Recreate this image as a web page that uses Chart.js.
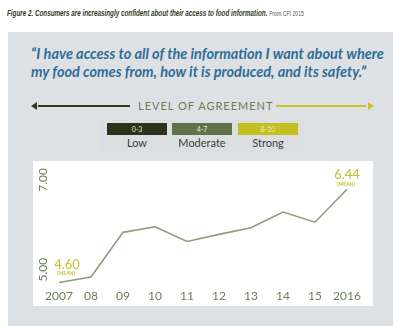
<!DOCTYPE html>
<html>
<head>
<meta charset="utf-8">
<script src="https://cdn.jsdelivr.net/npm/chart.js@4"></script>
<style>
  body { margin: 0; width: 393px; height: 326px; background: #fff; position: relative; overflow: hidden; font-family: Lato, sans-serif; }
  .title { position: absolute; left: 7px; top: 8px; white-space: nowrap; font-family: "Liberation Sans Narrow", sans-serif; font-size: 8.5px; font-weight: bold; font-style: italic; color: #2f3b22; transform: scaleX(0.74); transform-origin: left top; }
  .title span { font-weight: normal; font-style: normal; font-size: 7px; color: #555; }
  .panel { position: absolute; left: 8px; top: 32px; width: 385px; height: 294px; background: #dee1e3; }
  .quote { position: absolute; left: 31px; top: 45px; font-size: 14.5px; line-height: 18px; font-style: italic; font-weight: bold; color: #2f6d99; white-space: nowrap; }
  .agree { position: absolute; left: 138px; top: 99px; font-size: 11px; letter-spacing: 1px; color: #6d7b5a; white-space: nowrap; }
  .line-l { position: absolute; left: 38px; top: 105px; width: 92px; height: 1.5px; background: #2f3b1c; }
  .arr-l { position: absolute; left: 31px; top: 102px; width: 0; height: 0; border-top: 4px solid transparent; border-bottom: 4px solid transparent; border-right: 6px solid #2f3b1c; }
  .line-r { position: absolute; left: 276px; top: 105px; width: 90px; height: 1.5px; background: #c6c22a; }
  .arr-r { position: absolute; left: 368px; top: 102px; width: 0; height: 0; border-top: 4px solid transparent; border-bottom: 4px solid transparent; border-left: 6px solid #c6c22a; }
  .legbg { position: absolute; left: 98px; top: 119px; width: 207px; height: 34px; background: #dcdfe1; }
  .box { position: absolute; top: 123px; width: 60px; height: 12px; color: #e8ead8; font-size: 7px; line-height: 12px; text-align: center; }
  .lab { position: absolute; top: 136px; width: 80px; text-align: center; font-size: 11px; color: #3b3d38; }
  .plot { position: absolute; left: 33px; top: 161px; width: 340px; height: 145px; background: #fff; }
  canvas { position: absolute; left: 0; top: 0; }
</style>
</head>
<body>
<div class="title">Figure 2. Consumers are increasingly confident about their access to food information. <span>From CFI 2015</span></div>
<div class="panel"></div>
<div class="quote">“I have access to all of the information I want about where<br>my food comes from, how it is produced, and its safety.”</div>
<div class="arr-l"></div><div class="line-l"></div>
<div class="agree">LEVEL OF AGREEMENT</div>
<div class="line-r"></div><div class="arr-r"></div>
<div class="legbg"></div>
<div class="box" style="left:107px;background:#2c3318">0-3</div>
<div class="box" style="left:172px;background:#5e7347">4-7</div>
<div class="box" style="left:238px;background:#c2bf1f">8-10</div>
<div class="lab" style="left:97px">Low</div>
<div class="lab" style="left:162px">Moderate</div>
<div class="lab" style="left:228px">Strong</div>
<div class="plot"><canvas id="chart" width="340" height="145"></canvas></div>
<script>
// tahun survei dan skor rata-rata tingkat persetujuan
const years = ['2007', '08', '09', '10', '11', '12', '13', '14', '15', '2016'];
const meanScores = [4.60, 4.71, 5.59, 5.70, 5.41, 5.55, 5.68, 5.99, 5.79, 6.44];
const yTickValues = [5, 7];

const lineColor = '#8d9c7d';
const axisColor = '#6e7d5e';
const accentColor = '#c4c02e';

// label sumbu y diputar 90 derajat, digambar dari skala 'yl'
const yLabelPlugin = {
    id: 'yLabels',
    afterDraw(chart) {
        const ctx = chart.ctx;
        const scale = chart.scales.yl;
        ctx.save();
        ctx.fillStyle = axisColor;
        ctx.font = '12px Lato';
        ctx.textAlign = 'center';
        ctx.textBaseline = 'middle';
        yTickValues.forEach(function(v) {
            ctx.save();
            ctx.translate(10, scale.getPixelForValue(v));
            ctx.rotate(-Math.PI / 2);
            ctx.fillText(v.toFixed(2), 0, 0);
            ctx.restore();
        });
        ctx.restore();
    }
};

// keterangan nilai awal dan akhir (MEAN)
const meanLabelPlugin = {
    id: 'meanLabels',
    afterDatasetsDraw(chart) {
        const ctx = chart.ctx;
        const pts = chart.getDatasetMeta(0).data;
        const marks = [
            { i: 0, dx: 8, text: meanScores[0].toFixed(2) },
            { i: pts.length - 1, dx: 0, text: meanScores[meanScores.length - 1].toFixed(2) }
        ];
        ctx.save();
        ctx.fillStyle = accentColor;
        ctx.textAlign = 'center';
        ctx.textBaseline = 'middle';
        marks.forEach(function(m) {
            const p = pts[m.i];
            const dy = m.i === 0 ? -18 : -14;
            ctx.font = '13px Lato';
            ctx.fillText(m.text, p.x + m.dx, p.y + dy);
            ctx.font = 'bold 5px Lato';
            ctx.fillText('(MEAN)', p.x + m.dx - 1, p.y + dy + 9);
        });
        ctx.restore();
    }
};

new Chart(document.getElementById('chart').getContext('2d'), {
    type: 'line',
    data: {
        labels: years,
        datasets: [{
            data: meanScores,
            borderColor: lineColor,
            borderWidth: 1.6,
            pointRadius: 0,
            tension: 0,
            fill: false
        }]
    },
    options: {
        responsive: false,
        animation: false,
        layout: { padding: { left: 26, right: 26, top: 10, bottom: 2 } },
        plugins: { legend: { display: false }, tooltip: { enabled: false } },
        scales: {
            x: {
                offset: false,
                grid: { display: false, drawTicks: false },
                border: { display: false },
                ticks: { color: axisColor, font: { family: 'Lato', size: 12 }, padding: 1, autoSkip: false, maxRotation: 0 }
            },
            y: { display: false, min: 4.5, max: 6.8 },
            yl: { display: false, min: 4.6, max: 7.2 }
        }
    },
    plugins: [yLabelPlugin, meanLabelPlugin]
});
</script>
</body>
</html>
